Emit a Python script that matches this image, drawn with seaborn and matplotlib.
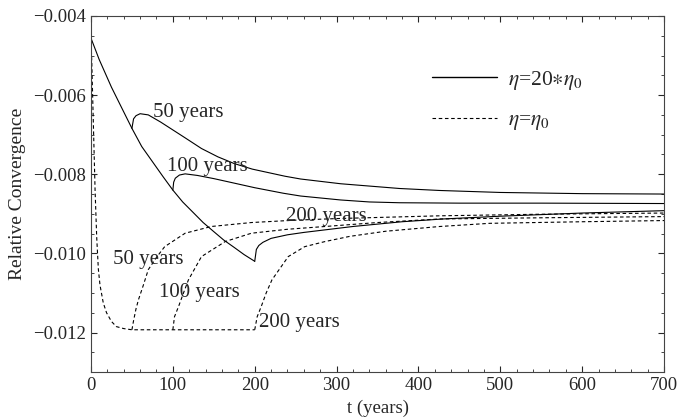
import numpy as np
import pandas as pd
import matplotlib
matplotlib.use("Agg")
import matplotlib.pyplot as plt
import seaborn as sns
from matplotlib.ticker import MultipleLocator
from matplotlib.lines import Line2D

# eta = 20*eta0 (solid): base run, then branches switched at 50/100/200 years
solid_base_t = [0, 10, 25, 37, 50, 62, 75, 88, 100, 112, 125, 137, 150, 162, 175, 187, 200]
solid_base_v = [-0.00456, -0.0051, -0.0058, -0.0063, -0.00684, -0.0073, -0.00768, -0.00806,
                -0.0084, -0.0087, -0.00897, -0.00922, -0.00945, -0.00966, -0.00985, -0.01003,
                -0.0102]

solid_50_t = [50, 52, 55, 60, 70, 85, 100, 115, 135, 155, 175, 197, 237, 256, 305, 377, 426,
              500, 600, 700]
solid_50_v = [-0.00684, -0.0066, -0.00652, -0.00647, -0.0065, -0.00668, -0.00688, -0.00708,
              -0.00735, -0.00756, -0.00773, -0.00787, -0.00805, -0.00812, -0.00824, -0.00836,
              -0.00841, -0.00846, -0.00849, -0.0085]

solid_100_t = [100, 101, 103, 108, 115, 130, 150, 174, 200, 235, 256, 305, 340, 377, 450, 550, 700]
solid_100_v = [-0.0084, -0.0082, -0.0081, -0.00802, -0.00799, -0.00803, -0.00811, -0.00822,
               -0.00834, -0.00848, -0.00855, -0.00865, -0.0087, -0.00872, -0.00873, -0.00873,
               -0.00874]

solid_200_t = [200, 202, 205, 210, 220, 240, 260, 280, 320, 380, 430, 500, 600, 700]
solid_200_v = [-0.0102, -0.0099, -0.0098, -0.00972, -0.00962, -0.00953, -0.00947, -0.00942,
               -0.00932, -0.0092, -0.00913, -0.00906, -0.00898, -0.00892]

# eta = eta0 (dashed)
dash_base_t = [0, 1, 2, 3, 4, 5, 7, 9, 11, 15, 19, 25, 31, 40, 50, 100, 200]
dash_base_v = [-0.00456, -0.0052, -0.0060, -0.0068, -0.0076, -0.0084, -0.0096, -0.0104,
               -0.0108, -0.01125, -0.0115, -0.01172, -0.01185, -0.0119, -0.01193, -0.01193,
               -0.01193]

dash_50_t = [50, 52, 55, 58, 64, 70, 80, 90, 115, 147, 196, 250, 300, 426, 550, 700]
dash_50_v = [-0.01193, -0.0117, -0.0114, -0.01117, -0.0108, -0.01041, -0.0101, -0.00983,
             -0.00949, -0.00932, -0.00922, -0.00916, -0.00912, -0.00905, -0.00901, -0.00898]

dash_100_t = [100, 102, 107, 113, 119, 135, 164, 196, 240, 286, 350, 426, 550, 700]
dash_100_v = [-0.01193, -0.0116, -0.01134, -0.011, -0.01067, -0.01008, -0.0097, -0.00949,
              -0.00939, -0.00932, -0.00922, -0.00913, -0.0091, -0.00907]

dash_200_t = [200, 203, 208, 214, 221, 241, 261, 286, 316, 360, 426, 487, 600, 700]
dash_200_v = [-0.01193, -0.0116, -0.01134, -0.011, -0.01067, -0.01008, -0.00983, -0.0097,
              -0.00957, -0.00944, -0.00932, -0.00924, -0.0092, -0.00917]

curves = [
    (solid_base_t, solid_base_v, "-"), (solid_50_t, solid_50_v, "-"),
    (solid_100_t, solid_100_v, "-"), (solid_200_t, solid_200_v, "-"),
    (dash_base_t, dash_base_v, "--"), (dash_50_t, dash_50_v, "--"),
    (dash_100_t, dash_100_v, "--"), (dash_200_t, dash_200_v, "--"),
]

label_text = ["50 years", "100 years", "200 years", "50 years", "100 years", "200 years"]
label_t = [118.5, 141.7, 287, 69.6, 133, 255]
label_v = [-0.00645, -0.00781, -0.00908, -0.01016, -0.0110, -0.01175]

legend_labels = [r"$\eta$=20$\ast\eta_0$", r"$\eta$=$\eta_0$"]

sns.set_style("ticks")
plt.rcParams["font.family"] = ["Liberation Serif", "DejaVu Serif"]
plt.rcParams["mathtext.fontset"] = "stix"

fig = plt.figure(figsize=(6.79, 4.20), dpi=100)
ax = fig.add_axes([0.134, 0.114, 0.844, 0.848])

dash_style = (0, (3.2, 2.4))
for t, v, ls in curves:
    sns.lineplot(x=t, y=v, ax=ax, color="black", linewidth=0.8,
                 linestyle="-" if ls == "-" else dash_style, sort=False, estimator=None)

for txt, t, v in zip(label_text, label_t, label_v):
    ax.text(t, v, txt, fontsize=15, ha="center", va="center")

ax.set_xlim(0, 700)
ax.set_ylim(-0.013, -0.004)
ax.xaxis.set_major_locator(MultipleLocator(100))
ax.xaxis.set_minor_locator(MultipleLocator(20))
ax.yaxis.set_major_locator(MultipleLocator(0.002))
ax.yaxis.set_minor_locator(MultipleLocator(0.0005))
ax.yaxis.set_major_formatter(plt.FuncFormatter(lambda val, pos: f"{val:.3f}".replace("-", "\u2212")))
ax.tick_params(which="both", direction="in", top=True, right=True, labelsize=13.5)
ax.tick_params(which="major", length=4, width=0.8)
ax.tick_params(which="minor", length=2, width=0.6)
for sp in ax.spines.values():
    sp.set_linewidth(0.8)
    sp.set_color("#444444")

ax.set_xlabel("t (years)", fontsize=13.5, labelpad=4)
ax.set_ylabel("Relative Convergence", fontsize=14, labelpad=5)

handles = [Line2D([0], [0], color="black", linewidth=1.0),
           Line2D([0], [0], color="black", linewidth=0.8, linestyle=dash_style)]
ax.legend(handles, legend_labels, loc="upper left", bbox_to_anchor=(0.595, 0.852),
          borderaxespad=0, borderpad=0, frameon=False, fontsize=15.5,
          handlelength=3.0, handletextpad=0.55, labelspacing=0.85)

fig.savefig("out.png", dpi=100)
